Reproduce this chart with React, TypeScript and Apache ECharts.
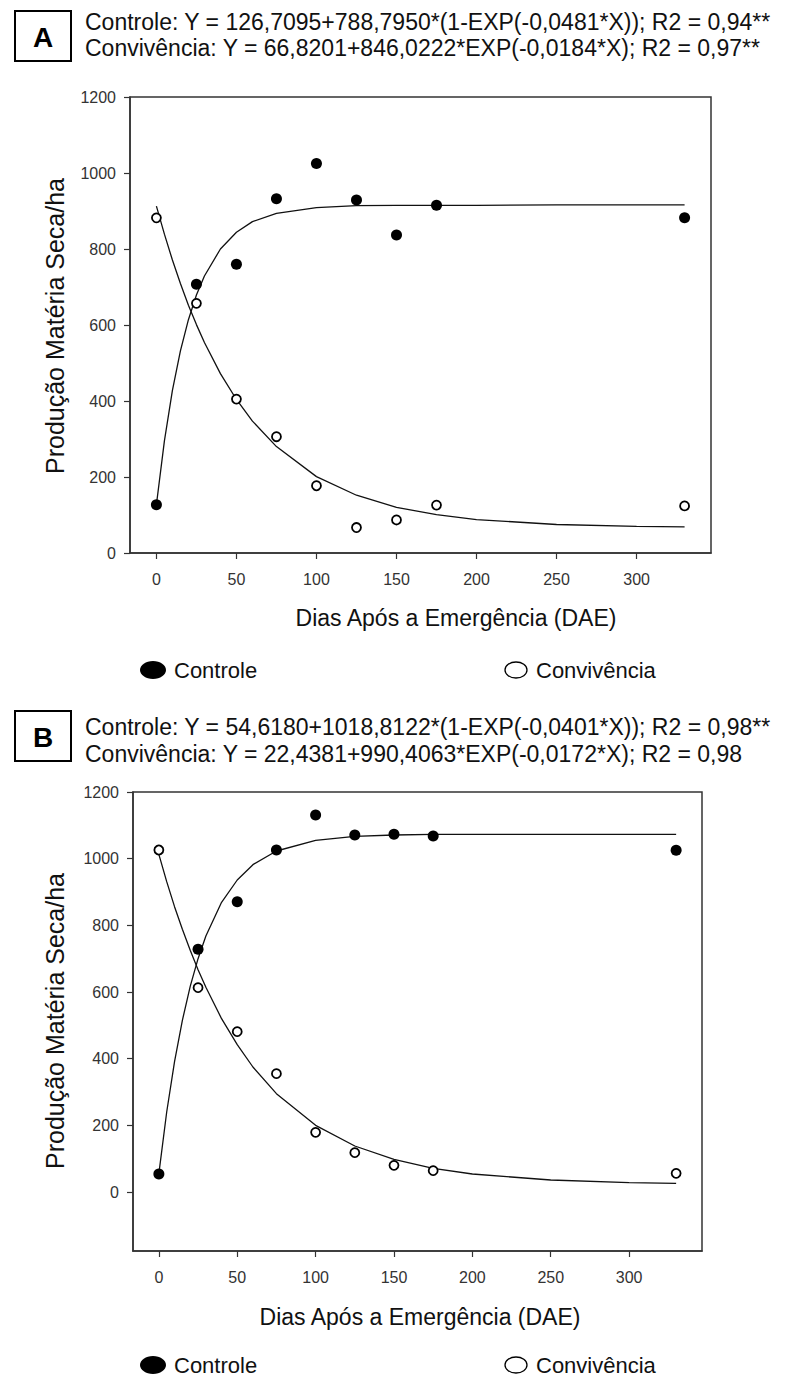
import React, { useEffect, useRef } from "react";
import * as echarts from "echarts";

// Days after emergence (DAE) at which dry matter was measured
const DAE = [0, 25, 50, 75, 100, 125, 150, 175, 330];

// Panel A observed values
const A_CONTROLE = [127, 707, 760, 932, 1025, 929, 837, 915, 882];
const A_CONVIVENCIA = [882, 657, 405, 306, 177, 67, 87, 126, 124];

// Panel B observed values
const B_CONTROLE = [54, 728, 871, 1026, 1131, 1071, 1073, 1068, 1025];
const B_CONVIVENCIA = [1026, 613, 481, 355, 179, 118, 80, 64, 56];

// Fitted curves at these x positions
const CURVE_X = [0, 5, 10, 15, 20, 25, 30, 40, 50, 60, 75, 100, 125, 150, 175, 200, 250, 300, 330];
const A_FIT_CONTROLE = [127, 295, 428, 532, 614, 679, 729, 800, 844, 872, 894, 909, 914, 915, 915, 915, 916, 916, 916];
const A_FIT_CONVIVENCIA = [913, 839, 771, 709, 652, 601, 554, 472, 404, 347, 280, 201, 152, 120, 101, 88, 75, 70, 69];
const B_FIT_CONTROLE = [55, 240, 391, 515, 617, 700, 768, 869, 936, 982, 1023, 1055, 1067, 1071, 1073, 1073, 1073, 1073, 1073];
const B_FIT_CONVIVENCIA = [1013, 931, 856, 788, 725, 667, 614, 520, 442, 375, 295, 200, 138, 98, 71, 54, 36, 28, 26];

// Tick labels
const X_TICKS = [0, 50, 100, 150, 200, 250, 300];
const Y_TICKS = [0, 200, 400, 600, 800, 1000, 1200];

// Texts
const EQ_A = [
  "Controle: Y = 126,7095+788,7950*(1-EXP(-0,0481*X)); R2 = 0,94**",
  "Convivência: Y = 66,8201+846,0222*EXP(-0,0184*X); R2 = 0,97**",
];
const EQ_B = [
  "Controle: Y = 54,6180+1018,8122*(1-EXP(-0,0401*X)); R2 = 0,98**",
  "Convivência: Y = 22,4381+990,4063*EXP(-0,0172*X); R2 = 0,98",
];
const X_TITLE = "Dias Após a Emergência (DAE)";
const Y_TITLE = "Produção Matéria Seca/ha";
const LEGEND = ["Controle", "Convivência"];

const FONT = "'Liberation Sans', Arial, sans-serif";

const pts = (xs: number[], ys: number[]) => xs.map((x, i) => [x, ys[i]]);

export default function App() {
  const ref = useRef<HTMLDivElement>(null);

  useEffect(() => {
    if (!ref.current) return;
    const chart = echarts.init(ref.current, null, { renderer: "svg" });

    const axisColor = "#333";
    const labelStyle = { fontSize: 16, color: "#333", fontFamily: FONT, formatter: (v: number) => String(v) };
    const mkX = (gi: number) => ({
      type: "value",
      gridIndex: gi,
      min: -16.5,
      max: 346.5,
      axisLine: { show: true, onZero: false, lineStyle: { color: axisColor, width: 1.5 } },
      axisTick: { show: true, inside: false, length: 6, customValues: X_TICKS, lineStyle: { color: axisColor, width: 1.2 } },
      axisLabel: { customValues: X_TICKS, margin: 18, ...labelStyle },
      splitLine: { show: false },
    });
    const mkY = (gi: number, min: number) => ({
      type: "value",
      gridIndex: gi,
      min,
      max: 1200,
      axisLine: { show: true, onZero: false, lineStyle: { color: axisColor, width: 1.5 } },
      axisTick: { show: true, inside: false, length: 6, customValues: Y_TICKS, lineStyle: { color: axisColor, width: 1.2 } },
      axisLabel: { customValues: Y_TICKS, margin: 14, ...labelStyle },
      splitLine: { show: false },
    });

    const filled = (name: string, gi: number, ys: number[]) => ({
      name, type: "scatter", xAxisIndex: gi, yAxisIndex: gi,
      data: pts(DAE, ys), symbol: "circle", symbolSize: 11,
      itemStyle: { color: "#000", opacity: 1 }, z: 5,
    });
    const open = (name: string, gi: number, ys: number[]) => ({
      name, type: "scatter", xAxisIndex: gi, yAxisIndex: gi,
      data: pts(DAE, ys), symbol: "circle", symbolSize: 9,
      itemStyle: { color: "#fff", borderColor: "#000", borderWidth: 1.8, opacity: 1 }, z: 5,
    });
    const fit = (name: string, gi: number, ys: number[]) => ({
      name, type: "line", xAxisIndex: gi, yAxisIndex: gi,
      data: pts(CURVE_X, ys), showSymbol: false, smooth: false,
      lineStyle: { color: "#111", width: 1.3 }, z: 3,
    });

    const box = (y: number, letter: string) => ({
      type: "group",
      children: [
        { type: "rect", shape: { x: 15, y, width: 56, height: 50 }, style: { fill: "#fff", stroke: "#000", lineWidth: 2 } },
        { type: "text", x: 43, y: y + 26, style: { text: letter, font: `bold 28px ${FONT}`, fill: "#000", align: "center", verticalAlign: "middle" } },
      ],
    });
    const eq = (y: number, t: string) => ({
      type: "text", x: 85, y, style: { text: t, font: `23px ${FONT}`, fill: "#111", verticalAlign: "middle" },
    });
    const legend = (y: number) => ([
      { type: "ellipse", shape: { cx: 153, cy: y, rx: 13, ry: 9 }, style: { fill: "#000" } },
      { type: "text", x: 174, y, style: { text: LEGEND[0], font: `22px ${FONT}`, fill: "#111", verticalAlign: "middle" } },
      { type: "ellipse", shape: { cx: 516, cy: y, rx: 11, ry: 8 }, style: { fill: "#fff", stroke: "#000", lineWidth: 1.3 } },
      { type: "text", x: 536, y, style: { text: LEGEND[1], font: `22px ${FONT}`, fill: "#111", verticalAlign: "middle" } },
    ]);
    const yTitle = (y: number) => ({
      type: "text", x: 55, y, rotation: Math.PI / 2,
      style: { text: Y_TITLE, font: `25px ${FONT}`, fill: "#111", align: "center", verticalAlign: "middle" },
    });
    const xTitle = (x: number, y: number) => ({
      type: "text", x, y, style: { text: X_TITLE, font: `23px ${FONT}`, fill: "#111", align: "center", verticalAlign: "middle" },
    });

    chart.setOption({
      animation: false,
      backgroundColor: "#fff",
      grid: [
        { left: 130, top: 97, width: 581, height: 456, show: true, borderColor: axisColor, borderWidth: 1.5, backgroundColor: "transparent" },
        { left: 133, top: 792, width: 569, height: 459, show: true, borderColor: axisColor, borderWidth: 1.5, backgroundColor: "transparent" },
      ],
      xAxis: [mkX(0), mkX(1)],
      yAxis: [mkY(0, 0), mkY(1, -177)],
      series: [
        fit("Controle ajuste A", 0, A_FIT_CONTROLE),
        fit("Convivência ajuste A", 0, A_FIT_CONVIVENCIA),
        filled("Controle A", 0, A_CONTROLE),
        open("Convivência A", 0, A_CONVIVENCIA),
        fit("Controle ajuste B", 1, B_FIT_CONTROLE),
        fit("Convivência ajuste B", 1, B_FIT_CONVIVENCIA),
        filled("Controle B", 1, B_CONTROLE),
        open("Convivência B", 1, B_CONVIVENCIA),
      ],
      graphic: [
        box(11, "A"),
        eq(22, EQ_A[0]),
        eq(48, EQ_A[1]),
        yTitle(326),
        xTitle(456, 618),
        ...legend(670),
        box(711, "B"),
        eq(727, EQ_B[0]),
        eq(754, EQ_B[1]),
        yTitle(1021),
        xTitle(420, 1317),
        ...legend(1365),
      ],
    });

    return () => chart.dispose();
  }, []);

  return <div ref={ref} style={{ position: "absolute", left: 0, top: 0, width: 787, height: 1380 }} />;
}
